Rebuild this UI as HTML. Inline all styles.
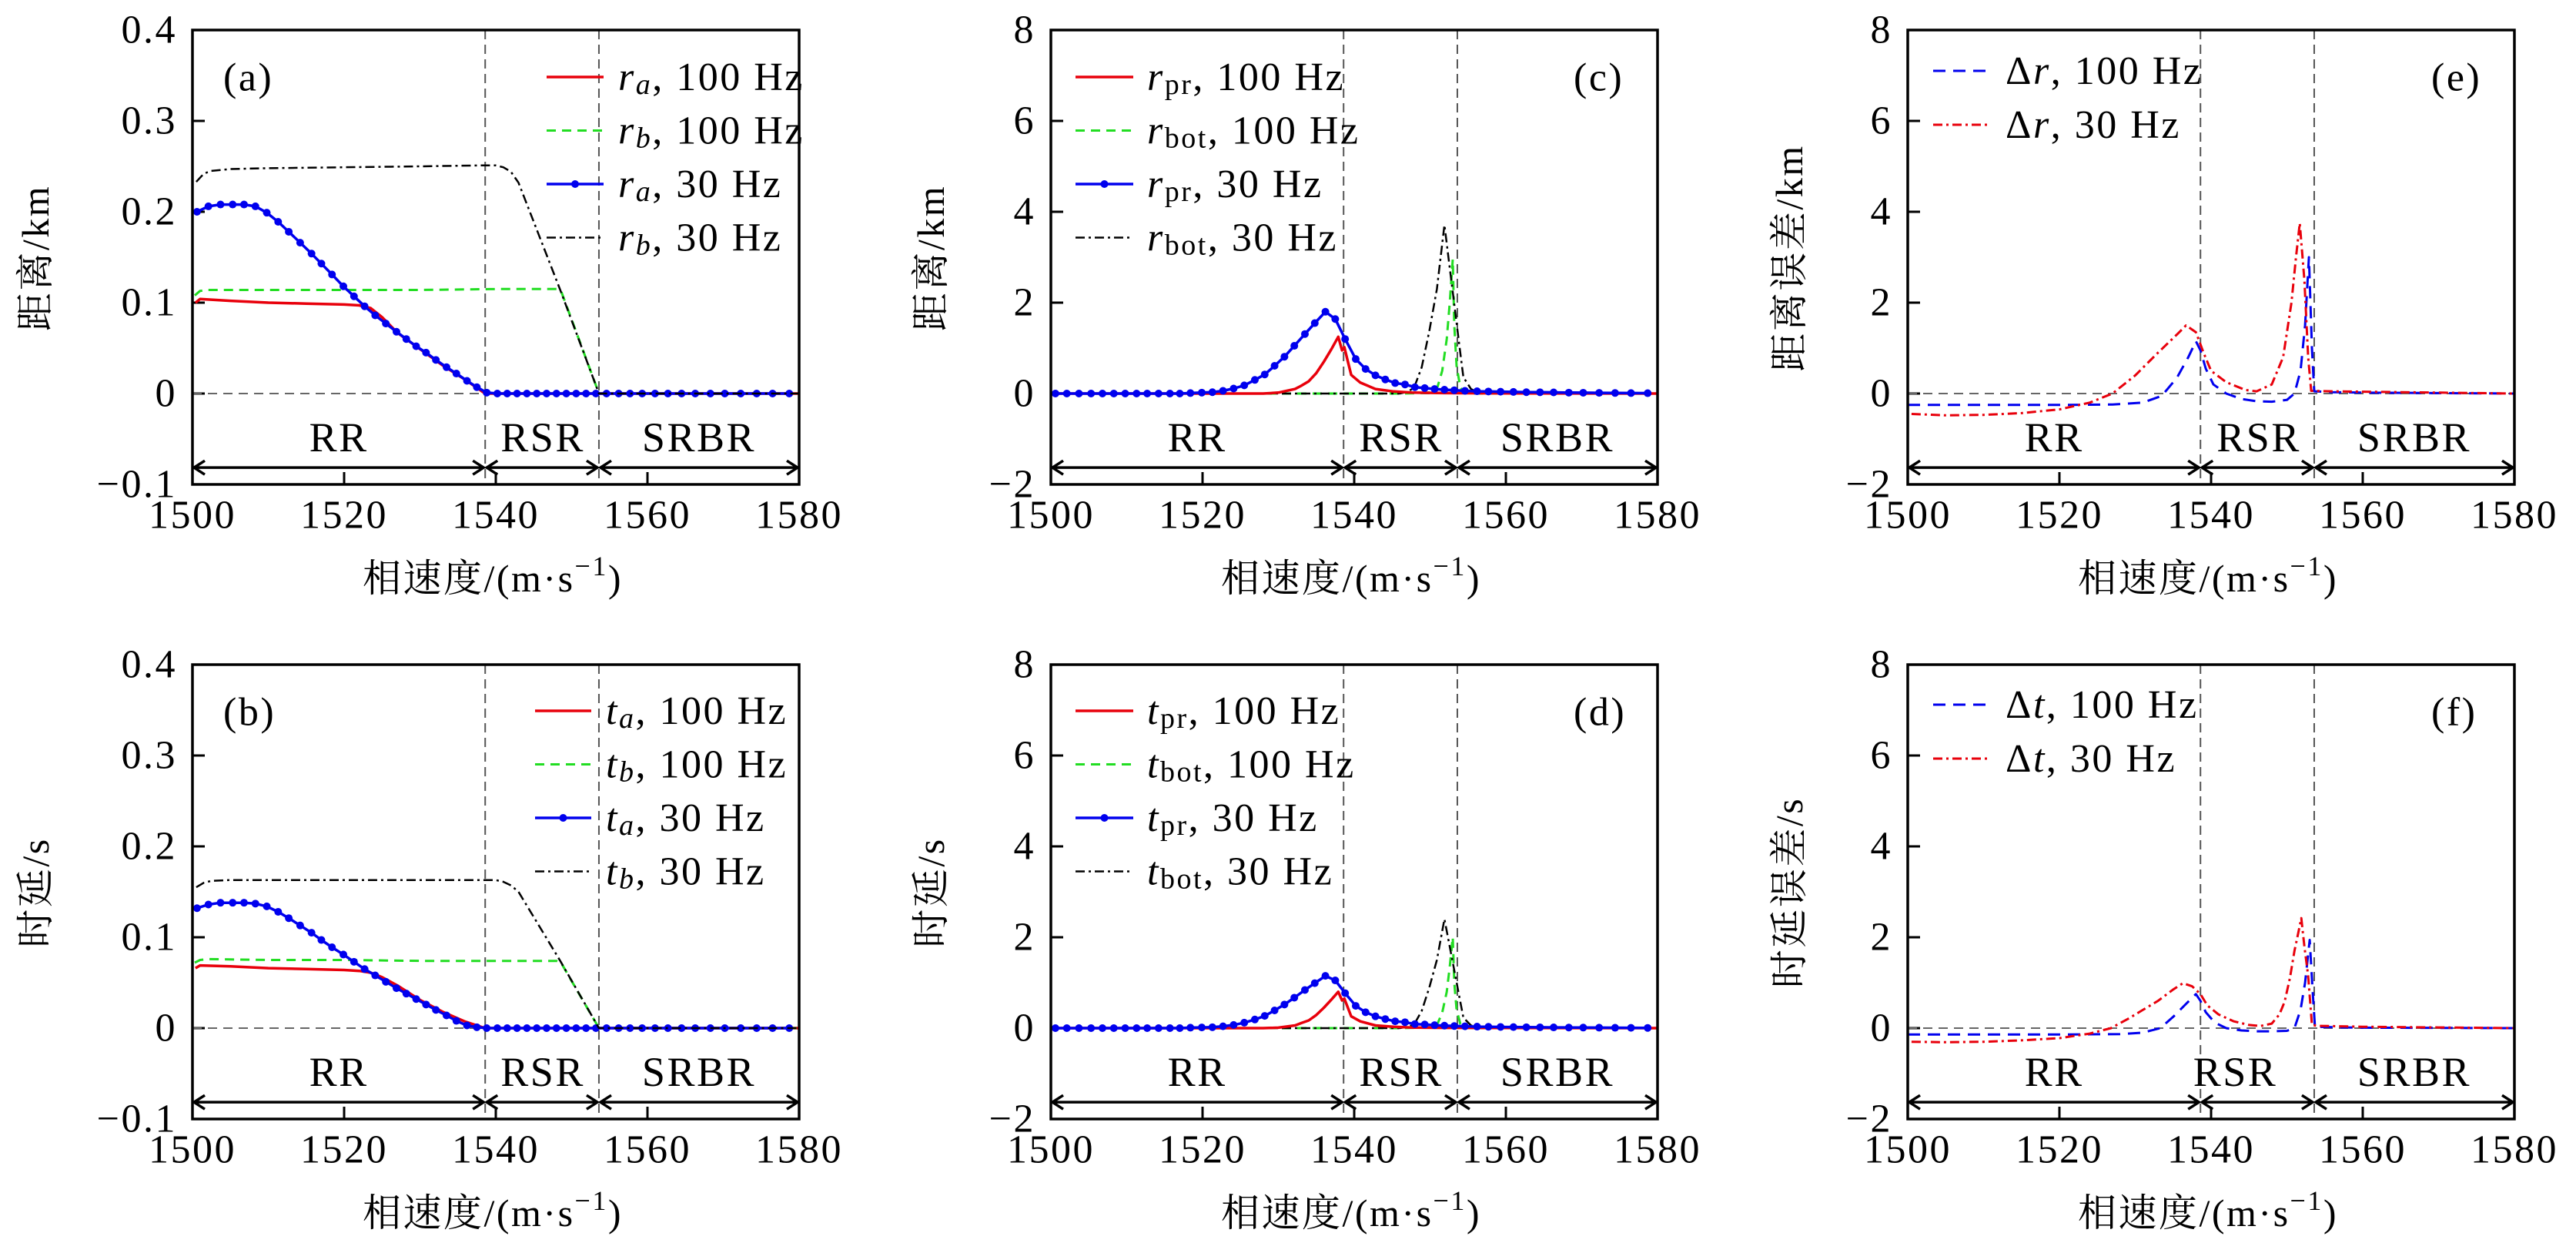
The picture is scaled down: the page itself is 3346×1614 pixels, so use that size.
<!DOCTYPE html>
<html><head><meta charset="utf-8">
<style>
html,body{margin:0;padding:0;background:#fff;}
svg{display:block;}
text{font-family:"Liberation Serif","Noto Serif CJK SC",serif;fill:#000;letter-spacing:2.5px;}
</style></head>
<body>
<svg id="fig" width="3346" height="1614" viewBox="0 0 3346 1614" xmlns="http://www.w3.org/2000/svg"></svg>
<script>
// ---------- shared data ----------
const regionBounds = [1538.6, 1553.6];
const xTicks = [1500, 1520, 1540, 1560, 1580];
const yTicksSmall = [0.4, 0.3, 0.2, 0.1, 0, -0.1];
const yTickLabelsSmall = ["0.4", "0.3", "0.2", "0.1", "0", "\u22120.1"];
const yTicksBig = [8, 6, 4, 2, 0, -2];
const yTickLabelsBig = ["8", "6", "4", "2", "0", "\u22122"];
// marker velocities for the 30 Hz curves
const xMark = [1500.6,1502.1,1503.7,1505.3,1506.8,1508.3,1509.8,1511.3,1512.7,1514.2,1515.7,1517.0,1518.4,1519.9,1521.3,1522.7,1524.1,1525.5,1526.9,1528.2,1529.5,1530.8,1532.1,1533.5,1534.8,1536.2,1537.5,1538.8,1540.2,1541.5,1542.8,1544.1,1545.4,1546.7,1548.0,1549.3,1550.6,1551.9,1553.2,1554.6,1556.2,1557.7,1559.3,1561.0,1562.7,1564.5,1566.3,1568.3,1570.2,1572.3,1574.4,1576.5,1578.7];

// ---------- panel (a) ----------
const aRedX = [1500.4,1501,1505,1510,1515,1520,1522,1523.5,1525,1527,1530,1533,1536,1538.6,1540,1560,1580];
const aRedY = [0.100,0.104,0.102,0.100,0.099,0.098,0.097,0.094,0.084,0.067,0.049,0.031,0.015,0,0,0,0];
const aGreenX = [1500.3,1501,1502,1510,1520,1530,1540,1548,1548.6,1553.6,1560,1580];
const aGreenY = [0.108,0.113,0.114,0.114,0.114,0.114,0.115,0.115,0.113,0,0,0];
const aBlueY = [0.200,0.206,0.208,0.208,0.208,0.206,0.199,0.189,0.178,0.166,0.154,0.143,0.131,0.118,0.107,0.096,0.086,0.077,0.068,0.060,0.052,0.045,0.037,0.029,0.022,0.014,0.007,0.001,0,0,0,0,0,0,0,0,0,0,0,0,0,0,0,0,0,0,0,0,0,0,0,0,0];
const aBlackX = [1500.5,1501.5,1502.5,1505,1510,1520,1530,1538,1540,1541,1542,1543,1548.5,1553.6,1560,1580];
const aBlackY = [0.233,0.242,0.245,0.247,0.248,0.249,0.250,0.251,0.251,0.249,0.244,0.232,0.114,0,0,0];

// ---------- panel (b) ----------
const bRedX = [1500.4,1501,1505,1510,1515,1520,1522,1523.5,1525,1527,1530,1533,1536,1538.6,1540,1560,1580];
const bRedY = [0.066,0.069,0.068,0.066,0.065,0.064,0.063,0.061,0.056,0.047,0.031,0.018,0.007,0,0,0,0];
const bGreenX = [1500.3,1501,1502,1510,1520,1530,1540,1548,1548.6,1553.6,1560,1580];
const bGreenY = [0.072,0.075,0.076,0.075,0.075,0.074,0.074,0.074,0.072,0,0,0];
const bBlueY = [0.132,0.136,0.138,0.138,0.138,0.137,0.134,0.128,0.121,0.113,0.105,0.097,0.089,0.081,0.073,0.065,0.058,0.051,0.044,0.038,0.032,0.026,0.020,0.014,0.008,0.003,0.001,0,0,0,0,0,0,0,0,0,0,0,0,0,0,0,0,0,0,0,0,0,0,0,0,0,0];
const bBlackX = [1500.5,1501.5,1502.5,1505,1510,1520,1530,1538,1540,1541,1542,1543,1548.5,1553.6,1560,1580];
const bBlackY = [0.155,0.160,0.162,0.163,0.163,0.163,0.163,0.163,0.163,0.161,0.157,0.150,0.074,0,0,0];

// ---------- panel (c) ----------
const cRedX = [1500,1528,1530,1532.2,1533,1534,1535,1536,1537,1537.9,1538.4,1538.7,1539.1,1539.6,1540.8,1542.8,1545.2,1547.6,1552,1560,1580];
const cRedY = [0,0,0.02,0.10,0.17,0.27,0.45,0.70,0.98,1.25,0.95,1.02,0.75,0.41,0.24,0.10,0.045,0.02,0.01,0.005,0];
const cGreenX = [1500,1546,1549,1550.3,1551,1551.6,1552.2,1552.6,1553.0,1553.2,1553.5,1554.0,1554.5,1556,1580];
const cGreenY = [0,0,0.01,0.03,0.15,0.5,1.2,2.0,2.95,1.5,0.6,0.13,0.02,0,0];
const cBlueY = [0,0,0,0,0,0,0,0,0,0,0,0,0.01,0.02,0.03,0.06,0.11,0.18,0.30,0.42,0.61,0.81,1.05,1.31,1.55,1.80,1.64,1.20,0.76,0.54,0.40,0.31,0.23,0.20,0.14,0.12,0.10,0.085,0.073,0.06,0.05,0.045,0.04,0.035,0.03,0.028,0.025,0.02,0.018,0.015,0.012,0.01,0.008];
const cBlackX = [1500,1546,1547.1,1547.9,1548.9,1549.9,1550.9,1551.9,1552.5,1553.1,1553.8,1554.4,1555.4,1556.3,1580];
const cBlackY = [0,0,0.04,0.13,0.58,1.37,2.3,3.71,2.9,2.1,1.15,0.36,0.10,0.02,0];

// ---------- panel (d) ----------
const dRedX = [1500,1528,1530,1532.2,1533,1534,1535,1536,1537,1537.9,1538.4,1538.7,1539.1,1539.6,1540.8,1542.8,1545.2,1547.6,1552,1560,1580];
const dRedY = [0,0,0.01,0.06,0.11,0.17,0.29,0.45,0.63,0.80,0.61,0.65,0.48,0.26,0.15,0.06,0.03,0.013,0.006,0.003,0];
const dGreenX = [1500,1546,1549,1550.3,1551,1551.6,1552.2,1552.6,1553.0,1553.2,1553.5,1554.0,1554.5,1556,1580];
const dGreenY = [0,0,0.01,0.02,0.10,0.34,0.8,1.35,2.0,1.0,0.4,0.09,0.01,0,0];
const dBlueY = [0,0,0,0,0,0,0,0,0,0,0,0,0.01,0.015,0.02,0.04,0.07,0.12,0.19,0.27,0.39,0.52,0.67,0.84,0.99,1.15,1.05,0.77,0.49,0.35,0.26,0.2,0.15,0.13,0.09,0.08,0.065,0.055,0.047,0.04,0.033,0.03,0.026,0.023,0.02,0.018,0.016,0.013,0.012,0.01,0.008,0.006,0.005];
const dBlackX = [1500,1546,1547.1,1547.9,1548.9,1549.9,1550.9,1551.9,1552.5,1553.1,1553.8,1554.4,1555.4,1556.3,1580];
const dBlackY = [0,0,0.03,0.08,0.38,0.89,1.5,2.4,1.88,1.36,0.75,0.23,0.06,0.01,0];

// ---------- panel (e) ----------
const eBlueX = [1500,1510,1520,1527,1531,1533.5,1535.5,1537,1538,1538.6,1539.3,1540.3,1542,1544,1546,1548,1550,1551,1551.8,1552.4,1552.9,1553.3,1553.6,1556,1560,1570,1580];
const eBlueY = [-0.25,-0.25,-0.25,-0.24,-0.2,-0.05,0.35,0.8,1.15,0.95,0.55,0.2,0,-0.12,-0.17,-0.18,-0.14,0,0.5,1.5,3.0,1.0,0.05,0.03,0.02,0.01,0];
const eRedX = [1500.5,1505,1510,1515,1520,1524,1527,1530,1533,1535.5,1536.7,1538,1539,1540,1542,1544.5,1546,1548,1549.5,1550.6,1551.2,1551.7,1552.3,1552.8,1553.2,1556,1560,1570,1580];
const eRedY = [-0.45,-0.48,-0.47,-0.43,-0.35,-0.2,0,0.4,0.9,1.3,1.5,1.35,0.9,0.5,0.25,0.08,0.05,0.2,0.8,2.0,3.0,3.75,2.5,0.8,0.06,0.05,0.04,0.02,0];

// ---------- panel (f) ----------
const fBlueX = [1500,1510,1520,1528,1531,1533.3,1535,1536.5,1538,1538.6,1539.3,1540.5,1542,1544,1546,1548,1550,1551,1551.8,1552.4,1553,1553.4,1553.7,1556,1560,1570,1580];
const fBlueY = [-0.14,-0.14,-0.14,-0.13,-0.1,0,0.25,0.5,0.75,0.6,0.35,0.12,0,-0.05,-0.07,-0.07,-0.06,0,0.4,1.0,1.94,0.8,0.03,0.02,0.01,0.005,0];
const fRedX = [1500.5,1505,1510,1515,1520,1524,1526.8,1529,1531,1533,1535,1536.3,1537.5,1538.6,1539.5,1541,1543,1545,1546.5,1548,1549,1549.7,1550.4,1551,1551.5,1551.9,1552.3,1552.8,1553.3,1554,1560,1570,1580];
const fRedY = [-0.30,-0.31,-0.30,-0.27,-0.22,-0.12,0,0.2,0.4,0.6,0.85,0.99,0.92,0.75,0.5,0.3,0.15,0.07,0.045,0.1,0.3,0.58,1.1,1.7,2.1,2.42,1.8,1.15,0.07,0.05,0.03,0.015,0];

// ---------- drawing ----------
const NS = "http://www.w3.org/2000/svg";
const svg = document.getElementById("fig");
function mk(tag, attrs, parent) {
  const e = document.createElementNS(NS, tag);
  for (const k in attrs) e.setAttribute(k, attrs[k]);
  (parent || svg).appendChild(e);
  return e;
}
const STY = {
  red: {stroke: "#e8000b", dash: null, w: 3.5},
  green: {stroke: "#22dd22", dash: "12,8", w: 3},
  blue: {stroke: "#0000ee", dash: null, w: 3.5},
  black: {stroke: "#000", dash: "12,5,3,5", w: 2.5},
  blueDash: {stroke: "#0000ee", dash: "16,10", w: 3},
  redDashDot: {stroke: "#e8000b", dash: "12,5,3,5", w: 3}
};

function addLegendLabel(t, main, sub, rest, mainItalic, subItalic) {
  const a = mk("tspan", {"font-style": mainItalic ? "italic" : "normal"}, t);
  a.textContent = main;
  if (sub) {
    const b = mk("tspan", {"font-size": "38", dy: "10", "font-style": subItalic ? "italic" : "normal"}, t);
    b.textContent = sub;
    const c = mk("tspan", {dy: "-10"}, t);
    c.textContent = rest;
  } else {
    const c = mk("tspan", {}, t);
    c.textContent = rest;
  }
}

function panel(cfg) {
  const g = mk("g", {});
  
  
  const L = cfg.left, T = cfg.top, W = 788, H = 590;
  const sx = v => L + (v - 1500) / 80 * W;
  const sy = v => T + (cfg.ymax - v) / (cfg.ymax - cfg.ymin) * H;

  cfg.yTicks.forEach((v, i) => {
    const tk = mk("line", {x1: L, x2: L + 16, y1: sy(v), y2: sy(v), stroke: "#000", "stroke-width": 3}, g);
    
    
    const tl = mk("text", {x: L - 20, y: sy(v), "font-size": 52, "text-anchor": "end", "dominant-baseline": "central"}, g);
    
    
    tl.textContent = cfg.yLabels[i];
  });
  xTicks.forEach(v => {
    const tk = mk("line", {x1: sx(v), x2: sx(v), y1: T + H, y2: T + H - 16, stroke: "#000", "stroke-width": 3}, g);
    
    
    const tl = mk("text", {x: sx(v), y: T + H + 40, "font-size": 52, "text-anchor": "middle", "dominant-baseline": "central"}, g);
    
    
    tl.textContent = String(v);
  });
  const xt = mk("text", {x: L + W / 2 - 4, y: T + H + 122, "font-size": 50, "text-anchor": "middle", "dominant-baseline": "central"}, g);
  
  
  xt.appendChild(document.createTextNode("相速度/(m·s"));
  const sup = mk("tspan", {"font-size": 36, dy: -16}, xt); sup.textContent = "\u22121";
  const cl = mk("tspan", {dy: 16}, xt); cl.textContent = ")";
  const yt = mk("text", {x: 0, y: 0, "font-size": 50, "text-anchor": "middle", "dominant-baseline": "central",
    transform: `translate(${cfg.ylx},${T + 296}) rotate(-90)`}, g);
  
  
  yt.textContent = cfg.ytitle;

  const z = mk("line", {x1: L, x2: L + W, y1: sy(0), y2: sy(0), stroke: "#666", "stroke-width": 2, "stroke-dasharray": "12,8"}, g);
  
  
  regionBounds.forEach(b => {
    const l = mk("line", {x1: sx(b), x2: sx(b), y1: T, y2: T + H, stroke: "#555", "stroke-width": 2, "stroke-dasharray": "12,7"}, g);
    
    
  });

  cfg.series.forEach(s => {
    const st = STY[s.style];
    const pts = s.x.map((xv, i) => sx(xv).toFixed(1) + "," + sy(s.y[i]).toFixed(1)).join(" ");
    const pl = mk("polyline", {points: pts, fill: "none", stroke: st.stroke, "stroke-width": st.w, "stroke-linejoin": "round"}, g);
    if (st.dash) pl.setAttribute("stroke-dasharray", st.dash);
    
    
    if (s.marker) {
      s.x.forEach((xv, i) => {
        const c = mk("circle", {cx: sx(xv), cy: sy(s.y[i]), r: 5, fill: st.stroke}, g);
        
        
      });
    }
  });

  const ay = T + H * 0.963;
  const segs = [[1500, regionBounds[0]], [regionBounds[0], regionBounds[1]], [regionBounds[1], 1580]];
  segs.forEach(sg => {
    const x1 = sx(sg[0]) + 2, x2 = sx(sg[1]) - 2;
    const ar = mk("path", {d: `M${x1},${ay} L${x2},${ay} M${x1 + 14},${ay - 9} L${x1},${ay} L${x1 + 14},${ay + 9} M${x2 - 14},${ay - 9} L${x2},${ay} L${x2 - 14},${ay + 9}`,
      fill: "none", stroke: "#000", "stroke-width": 3.5}, g);
    
    
  });
  const rl = [["RR", 1519.3], ["RSR", cfg.rsrX], ["SRBR", 1566.8]];
  rl.forEach(r => {
    const t = mk("text", {x: sx(r[1]), y: T + H * 0.897, "font-size": 54, "text-anchor": "middle", "dominant-baseline": "central"}, g);
    
    
    t.textContent = r[0];
  });

  const fr = mk("rect", {x: L, y: T, width: W, height: H, fill: "none", stroke: "#000", "stroke-width": 3.5}, g);
  
  

  const pl = mk("text", {x: L + cfg.plx, y: T + 62, "font-size": 52, "dominant-baseline": "central"}, g);
  
  
  pl.textContent = cfg.label;

  cfg.legend.forEach((e, i) => {
    const y = T + cfg.lgTop + i * cfg.lgStep;
    const st = STY[e.style];
    const ln = mk("line", {x1: L + cfg.lgX1, x2: L + cfg.lgX2, y1: y, y2: y, stroke: st.stroke, "stroke-width": st.w}, g);
    if (st.dash) ln.setAttribute("stroke-dasharray", st.dash);
    
    
    if (e.marker) {
      const c = mk("circle", {cx: L + (cfg.lgX1 + cfg.lgX2) / 2, cy: y, r: 5, fill: st.stroke}, g);
      
      
    }
    const t = mk("text", {x: L + cfg.lgTx, y: y, "font-size": 52, "dominant-baseline": "central"}, g);
    
    
    addLegendLabel(t, e.main, e.sub, e.rest, e.mi, e.si);
  });
}

const legA = [
  {style: "red", main: "r", sub: "a", rest: ", 100 Hz", mi: true, si: true},
  {style: "green", main: "r", sub: "b", rest: ", 100 Hz", mi: true, si: true},
  {style: "blue", marker: true, main: "r", sub: "a", rest: ", 30 Hz", mi: true, si: true},
  {style: "black", main: "r", sub: "b", rest: ", 30 Hz", mi: true, si: true}];
const legB = [
  {style: "red", main: "t", sub: "a", rest: ", 100 Hz", mi: true, si: true},
  {style: "green", main: "t", sub: "b", rest: ", 100 Hz", mi: true, si: true},
  {style: "blue", marker: true, main: "t", sub: "a", rest: ", 30 Hz", mi: true, si: true},
  {style: "black", main: "t", sub: "b", rest: ", 30 Hz", mi: true, si: true}];
const legC = [
  {style: "red", main: "r", sub: "pr", rest: ", 100 Hz", mi: true},
  {style: "green", main: "r", sub: "bot", rest: ", 100 Hz", mi: true},
  {style: "blue", marker: true, main: "r", sub: "pr", rest: ", 30 Hz", mi: true},
  {style: "black", main: "r", sub: "bot", rest: ", 30 Hz", mi: true}];
const legD = [
  {style: "red", main: "t", sub: "pr", rest: ", 100 Hz", mi: true},
  {style: "green", main: "t", sub: "bot", rest: ", 100 Hz", mi: true},
  {style: "blue", marker: true, main: "t", sub: "pr", rest: ", 30 Hz", mi: true},
  {style: "black", main: "t", sub: "bot", rest: ", 30 Hz", mi: true}];

function deltaLeg(letter) {
  return [{style: "blueDash", d: letter, f: ", 100 Hz"},
          {style: "redDashDot", d: letter, f: ", 30 Hz"}];
}

const smallCfg = {ymin: -0.1, ymax: 0.4, yTicks: yTicksSmall, yLabels: yTickLabelsSmall};
const bigCfg = {ymin: -2, ymax: 8, yTicks: yTicksBig, yLabels: yTickLabelsBig};

panel(Object.assign({name: "panel-a", left: 250, top: 39, ytitle: "距离/km", ylx: 46, label: "(a)", plx: 40, rsrX: 1546.2,
  lgX1: 460, lgX2: 534, lgTx: 553, lgTop: 61, lgStep: 69.5, legend: legA,
  series: [
    {name: "ra-100hz-line", style: "red", x: aRedX, y: aRedY},
    {name: "rb-100hz-line", style: "green", x: aGreenX, y: aGreenY},
    {name: "ra-30hz-line", style: "blue", x: xMark, y: aBlueY, marker: true},
    {name: "rb-30hz-line", style: "black", x: aBlackX, y: aBlackY}]}, smallCfg));
panel(Object.assign({name: "panel-b", left: 250, top: 863, ytitle: "时延/s", ylx: 46, label: "(b)", plx: 40, rsrX: 1546.2,
  lgX1: 445, lgX2: 518, lgTx: 537, lgTop: 60, lgStep: 69.5, legend: legB,
  series: [
    {name: "ta-100hz-line", style: "red", x: bRedX, y: bRedY},
    {name: "tb-100hz-line", style: "green", x: bGreenX, y: bGreenY},
    {name: "ta-30hz-line", style: "blue", x: xMark, y: bBlueY, marker: true},
    {name: "tb-30hz-line", style: "black", x: bBlackX, y: bBlackY}]}, smallCfg));
panel(Object.assign({name: "panel-c", left: 1365, top: 39, ytitle: "距离/km", ylx: 1209, label: "(c)", plx: 679, rsrX: 1546.2,
  lgX1: 32, lgX2: 107, lgTx: 125, lgTop: 61, lgStep: 69.5, legend: legC,
  series: [
    {name: "rbot-100hz-line", style: "green", x: cGreenX, y: cGreenY},
    {name: "rbot-30hz-line", style: "black", x: cBlackX, y: cBlackY},
    {name: "rpr-100hz-line", style: "red", x: cRedX, y: cRedY},
    {name: "rpr-30hz-line", style: "blue", x: xMark, y: cBlueY, marker: true}]}, bigCfg));
panel(Object.assign({name: "panel-d", left: 1365, top: 863, ytitle: "时延/s", ylx: 1209, label: "(d)", plx: 679, rsrX: 1546.2,
  lgX1: 32, lgX2: 107, lgTx: 125, lgTop: 60, lgStep: 69.5, legend: legD,
  series: [
    {name: "tbot-100hz-line", style: "green", x: dGreenX, y: dGreenY},
    {name: "tbot-30hz-line", style: "black", x: dBlackX, y: dBlackY},
    {name: "tpr-100hz-line", style: "red", x: dRedX, y: dRedY},
    {name: "tpr-30hz-line", style: "blue", x: xMark, y: dBlueY, marker: true}]}, bigCfg));

function deltaPanel(cfg, letter) {
  panel(Object.assign(cfg, {legend: []}));
  const L = cfg.left, T = cfg.top;
  deltaLeg(letter).forEach((e, i) => {
    const y = T + cfg.lgTop + i * 70;
    const st = STY[e.style];
    const ln = mk("line", {x1: L + 33, x2: L + 108, y1: y, y2: y, stroke: st.stroke, "stroke-width": st.w, "stroke-dasharray": st.dash});
    
    
    const t = mk("text", {x: L + 127, y: y, "font-size": 52, "dominant-baseline": "central"});
    
    
    const a = mk("tspan", {}, t); a.textContent = "\u0394";
    const b = mk("tspan", {"font-style": "italic"}, t); b.textContent = e.d;
    const c = mk("tspan", {}, t); c.textContent = e.f;
  });
}
deltaPanel(Object.assign({name: "panel-e", left: 2478, top: 39, ytitle: "距离误差/km", ylx: 2324, label: "(e)", plx: 680, rsrX: 1546.3,
  lgTop: 53, series: [
    {name: "delta-r-100hz-line", style: "blueDash", x: eBlueX, y: eBlueY},
    {name: "delta-r-30hz-line", style: "redDashDot", x: eRedX, y: eRedY}]}, bigCfg), "r");
deltaPanel(Object.assign({name: "panel-f", left: 2478, top: 863, ytitle: "时延误差/s", ylx: 2324, label: "(f)", plx: 680, rsrX: 1543.2,
  lgTop: 52, series: [
    {name: "delta-t-100hz-line", style: "blueDash", x: fBlueX, y: fBlueY},
    {name: "delta-t-30hz-line", style: "redDashDot", x: fRedX, y: fRedY}]}, bigCfg), "t");
</script>
</body></html>
